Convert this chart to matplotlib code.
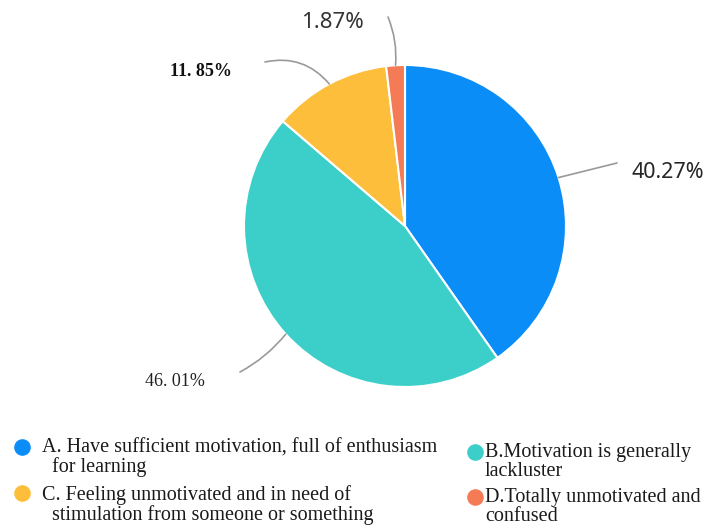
import matplotlib.pyplot as plt
import numpy as np

# survey shares, clockwise from 12 o'clock
categories = ["A", "B", "C", "D"]
shares = [40.27, 46.01, 11.85, 1.87]
value_labels = ["40.27%", "46. 01%", "11. 85%", "1.87%"]
legend_texts = [
    "A. Have sufficient motivation, full of enthusiasm\n  for learning",
    "B.Motivation is generally\nlackluster",
    "C. Feeling unmotivated and in need of\n  stimulation from someone or something",
    "D.Totally unmotivated and\nconfused",
]
colors = ["#0b8df8", "#3ccfc9", "#fdbf3b", "#f47b55"]

W, H = 710, 525
fig = plt.figure(figsize=(W / 100, H / 100), dpi=100)
ax = fig.add_axes([0, 0, 1, 1])

cx, cy, r = 405, H - 226, 161
wedges, _ = ax.pie(shares, colors=colors, startangle=90, counterclock=False,
                   center=(cx, cy), radius=r, frame=True,
                   wedgeprops=dict(edgecolor="white", linewidth=1.5))
ax.set_xlim(0, W)
ax.set_ylim(0, H)
ax.set_aspect("equal")
ax.axis("off")

# label placement: text position, font, leader end point and arc bend
label_cfg = [
    dict(xy_text=(631, H - 172), family="Noto Sans", weight="normal",
         size=15.5, color="#262626", tail=(617, H - 163), rad=0.0),
    dict(xy_text=(145, H - 381), family="Liberation Serif", weight="normal",
         size=13, color="#222222", tail=(240, H - 372), rad=-0.1),
    dict(xy_text=(170, H - 72), family="Liberation Serif", weight="bold",
         size=13, color="#111111", tail=(265, H - 62), rad=0.3),
    dict(xy_text=(301, H - 22), family="Noto Sans", weight="normal",
         size=16, color="#333333", tail=(388, H - 17), rad=0.12),
]

for w, lab, cfg in zip(wedges, value_labels, label_cfg):
    mid = np.deg2rad((w.theta1 + w.theta2) / 2)
    edge = (cx + r * np.cos(mid), cy + r * np.sin(mid))
    ax.annotate("", xy=cfg["tail"], xytext=edge,
                arrowprops=dict(arrowstyle="-", color="#9a9a9a", lw=1.2,
                                connectionstyle=f"arc3,rad={cfg['rad']}",
                                shrinkA=0, shrinkB=0))
    ax.text(*cfg["xy_text"], lab, ha="left", va="center",
            family=cfg["family"], weight=cfg["weight"], fontsize=cfg["size"],
            color=cfg["color"])

# legend drawn as two columns of circle markers with wrapped text
legend_pos = [(22, 447, 42, 458), (475, 452, 485, 462),
              (22, 493, 42, 505), (475, 497, 485, 507)]
for (mx, my, tx, ty), txt, c in zip(legend_pos, legend_texts, colors):
    ax.scatter([mx], [H - my], s=120, color=c, zorder=3)
    ax.text(tx, H - ty, txt, ha="left", va="center", family="Liberation Serif",
            fontsize=14.5, color="#1a1a1a", linespacing=0.95)

fig.savefig("out.png", dpi=100)
